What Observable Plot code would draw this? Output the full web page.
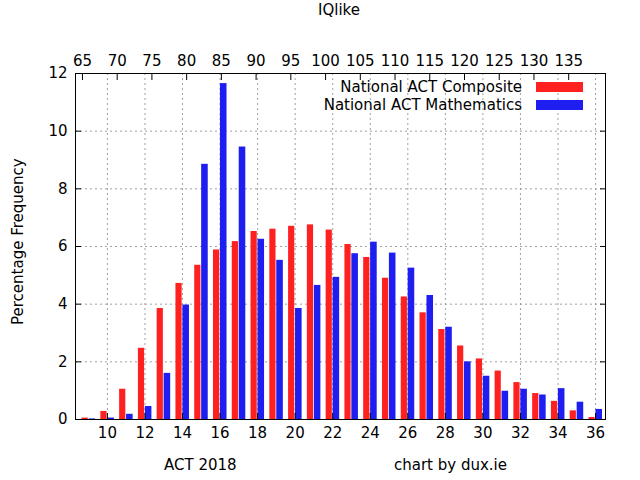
<!DOCTYPE html>
<html><head>
<script src="https://cdn.jsdelivr.net/npm/d3@7"></script>
<script src="https://cdn.jsdelivr.net/npm/@observablehq/plot@0.6"></script>
<style>
body{margin:0;background:#fff;font-family:"DejaVu Sans",sans-serif;}
#wrap{position:relative;width:640px;height:480px;}
.lbl{position:absolute;font-size:15px;color:#000;}
</style>
</head><body>
<div id="wrap"></div>
<script>
const scores = [9,10,11,12,13,14,15,16,17,18,19,20,21,22,23,24,25,26,27,28,29,30,31,32,33,34,35,36];
const composite = [0.05,0.28,1.05,2.47,3.85,4.72,5.35,5.88,6.17,6.52,6.6,6.7,6.75,6.57,6.07,5.62,4.9,4.25,3.7,3.12,2.55,2.1,1.68,1.28,0.9,0.63,0.3,0.07];
const mathematics = [0.02,0.05,0.18,0.45,1.6,3.97,8.85,11.65,9.45,6.25,5.52,3.85,4.65,4.93,5.75,6.15,5.77,5.25,4.3,3.2,2.0,1.5,0.98,1.05,0.85,1.07,0.6,0.35];
const bottomTicks = [10,12,14,16,18,20,22,24,26,28,30,32,34,36];
const iqTicks = [65,70,75,80,85,90,95,100,105,110,115,120,125,130,135];
const yTicks = [0,2,4,6,8,10,12];
const seriesNames = ["National ACT Composite","National ACT Mathematics"];
const colors = ["#ff2020","#1e1ef0"];
// IQlike to ACT score position
const iqToScore = iq => 8.67 + (iq - 65) * 0.37;

const red = scores.map((s,i)=>({s, v: composite[i]}));
const blue = scores.map((s,i)=>({s, v: mathematics[i]}));

const plot = Plot.plot({
  width:640, height:480,
  marginLeft:75, marginRight:35, marginTop:73, marginBottom:61,
  style:{fontFamily:"DejaVu Sans, sans-serif", fontSize:"15px", color:"#000"},
  x:{domain:[8.3,36.53], axis:null},
  y:{domain:[0,12], axis:null},
  marks:[
    Plot.gridX(bottomTicks,{stroke:"#888",strokeOpacity:0.8,strokeDasharray:"2,3"}),
    Plot.gridY(yTicks,{stroke:"#888",strokeOpacity:0.8,strokeDasharray:"2,3"}),
    Plot.rectY(red,{x1:d=>d.s-0.35,x2:d=>d.s-0.02,y:"v",fill:colors[0]}),
    Plot.rectY(blue,{x1:d=>d.s+0.02,x2:d=>d.s+0.37,y:"v",fill:colors[1]}),
    Plot.axisX(bottomTicks,{anchor:"bottom",tickSize:-6,tickPadding:14,fontSize:15,label:null}),
    Plot.axisX(iqTicks.map(iqToScore),{anchor:"top",tickSize:-6,tickPadding:14,fontSize:15,label:null,tickFormat:(d,i)=>iqTicks[i]}),
    Plot.axisY(yTicks,{anchor:"left",tickSize:-6,tickPadding:14,fontSize:15,label:null}),
    Plot.axisY(yTicks,{anchor:"right",tickSize:-6,tickFormat:()=>"",label:null}),
    Plot.frame({stroke:"#000"})
  ]
});
plot.style.position="absolute"; plot.style.left="0"; plot.style.top="0";
const wrap=document.getElementById("wrap");
wrap.appendChild(plot);
function lbl(t,css){const d=document.createElement("div");d.className="lbl";d.textContent=t;Object.assign(d.style,css);wrap.appendChild(d);}
lbl("IQlike",{left:"318px",top:"1px"});
lbl("ACT 2018",{left:"164px",top:"456px"});
lbl("chart by dux.ie",{left:"394px",top:"456px"});
lbl("Percentage Frequency",{left:"-62px",top:"236px",transform:"rotate(-90deg)",width:"160px",textAlign:"center",whiteSpace:"nowrap"});
lbl(seriesNames[0],{right:"118px",top:"78px",textAlign:"right",whiteSpace:"nowrap"});
lbl(seriesNames[1],{right:"118px",top:"96px",textAlign:"right",whiteSpace:"nowrap"});
[0,1].forEach(i=>{const d=document.createElement("div");Object.assign(d.style,{position:"absolute",left:"536px",top:(82+i*18)+"px",width:"47px",height:"10px",background:colors[i]});wrap.appendChild(d);});
</script>
</body></html>
